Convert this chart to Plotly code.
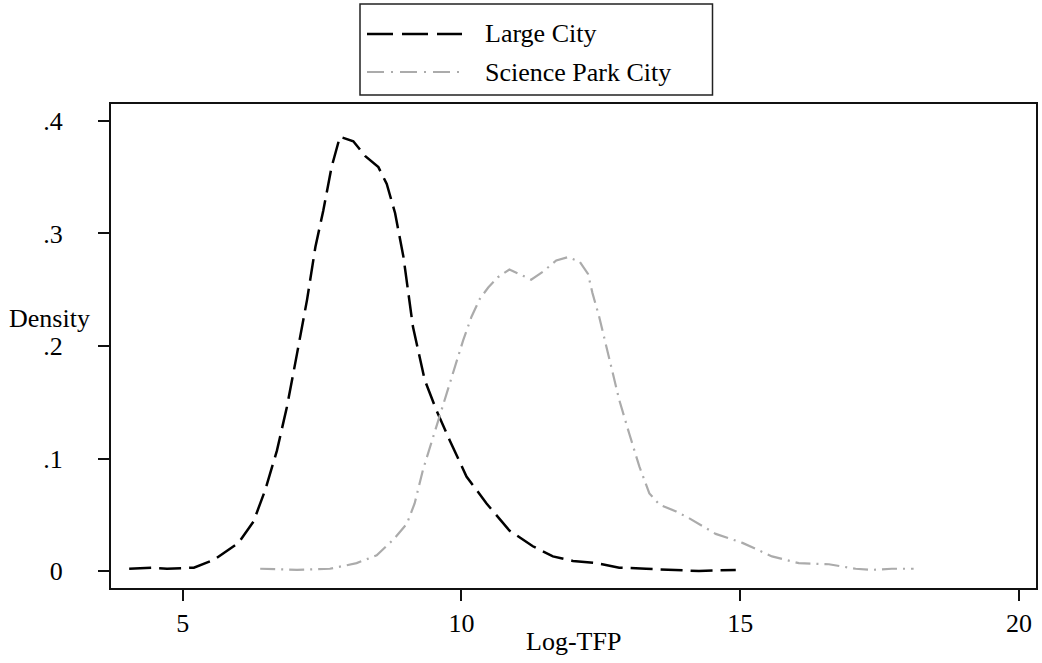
import plotly.graph_objects as go

# ---- data ----
large_x = [4.04, 4.45, 4.72, 5.2, 5.56, 6.0, 6.27, 6.48, 6.69, 6.87, 7.05, 7.23, 7.38, 7.52, 7.67,
           7.82, 8.06, 8.27, 8.51, 8.66, 8.81, 8.96, 9.13, 9.34, 9.55, 9.79, 10.09, 10.45, 10.86,
           11.28, 11.64, 12.0, 12.42, 12.83, 13.31, 13.79, 14.26, 14.92]
large_y = [0.002, 0.003, 0.002, 0.003, 0.010, 0.025, 0.044, 0.072, 0.107, 0.146, 0.193, 0.241,
           0.288, 0.320, 0.359, 0.386, 0.382, 0.369, 0.359, 0.344, 0.318, 0.279, 0.217, 0.170,
           0.143, 0.116, 0.084, 0.060, 0.036, 0.022, 0.013, 0.009, 0.007, 0.003, 0.002, 0.001,
           0.000, 0.001]

park_x = [6.39, 7.05, 7.64, 8.12, 8.48, 8.78, 9.02, 9.16, 9.31, 9.49, 9.67, 9.85, 10.03, 10.18,
          10.33, 10.48, 10.65, 10.86, 11.04, 11.25, 11.46, 11.70, 11.91, 12.12, 12.27, 12.35,
          12.47, 12.59, 12.71, 12.83, 13.01, 13.19, 13.37, 13.55, 13.85, 14.08, 14.56, 15.04,
          15.57, 16.05, 16.59, 17.07, 17.36, 17.72, 18.11]
park_y = [0.002, 0.001, 0.002, 0.007, 0.014, 0.028, 0.042, 0.060, 0.090, 0.119, 0.146, 0.176,
          0.205, 0.226, 0.242, 0.252, 0.261, 0.268, 0.264, 0.259, 0.266, 0.276, 0.279, 0.275,
          0.264, 0.247, 0.226, 0.202, 0.176, 0.152, 0.122, 0.093, 0.069, 0.059, 0.053, 0.047,
          0.033, 0.025, 0.013, 0.007, 0.006, 0.002, 0.001, 0.002, 0.002]

series_names = ["Large City", "Science Park City"]
x_tickvals = [5, 10, 15, 20]
x_ticktext = ["5", "10", "15", "20"]
y_tickvals = [0, 0.1, 0.2, 0.3, 0.4]
y_ticktext = ["0", ".1", ".2", ".3", ".4"]
x_title = "Log-TFP"
y_title = "Density"

# ---- styling ----
FONT = "Liberation Serif, Times New Roman, serif"
FS = 26
W, H = 1042, 663
# plot area in window pixels: x 111..1036, y 104..588
L, R, T, B = 111, 1042 - 1036, 104, 663 - 588
PW, PH = W - L - R, H - T - B

BLACK_DASH = "22px,8px"
GRAY = "#ababab"
GRAY_DASH = "15px,6px,2px,6px"


def px2paper(px, py):
    """window pixel -> paper coordinate"""
    return (px - L) / PW, (H - B - py) / PH


fig = go.Figure()
fig.add_trace(go.Scatter(x=large_x, y=large_y, mode="lines", name=series_names[0],
                         line=dict(color="black", width=2.5, dash=BLACK_DASH),
                         showlegend=False))
fig.add_trace(go.Scatter(x=park_x, y=park_y, mode="lines", name=series_names[1],
                         line=dict(color=GRAY, width=2.2, dash=GRAY_DASH),
                         showlegend=False))

axis_common = dict(showline=True, linewidth=2, linecolor="#111", mirror=True,
                   showgrid=False, zeroline=False, ticks="outside", ticklen=11,
                   tickwidth=1.5, tickcolor="#111",
                   tickfont=dict(family=FONT, size=FS, color="black"))

fig.update_xaxes(range=[3.714, 20.305], tickvals=x_tickvals, ticktext=x_ticktext,
                 ticklabelstandoff=0, **axis_common)
fig.update_yaxes(range=[-0.0151, 0.4151], tickvals=y_tickvals, ticktext=y_ticktext,
                 ticklabelstandoff=30, **axis_common)

shapes = []
annotations = []

# axis titles
ax, ay = px2paper(50, 318)
annotations.append(dict(text=y_title, x=ax, y=ay, xref="paper", yref="paper",
                        xanchor="center", yanchor="middle", showarrow=False,
                        font=dict(family=FONT, size=FS, color="black")))
ax, ay = px2paper(573, 641)
annotations.append(dict(text=x_title, x=ax, y=ay, xref="paper", yref="paper",
                        xanchor="center", yanchor="middle", showarrow=False,
                        font=dict(family=FONT, size=FS, color="black")))

# legend box
x0, y0 = px2paper(360, 95)
x1, y1 = px2paper(712.5, 4)
shapes.append(dict(type="rect", xref="paper", yref="paper", x0=x0, y0=y0, x1=x1, y1=y1,
                   line=dict(color="#222", width=1.5), fillcolor="white", layer="above"))
legend_rows = [(34, "black", 2.5, "26px,9px"), (72, GRAY, 2.2, "17px,7px,2px,7px")]
for (ry, col, lw, dsh), name in zip(legend_rows, series_names):
    sx0, sy = px2paper(367, ry)
    sx1, _ = px2paper(462, ry)
    shapes.append(dict(type="line", xref="paper", yref="paper", x0=sx0, x1=sx1, y0=sy, y1=sy,
                       line=dict(color=col, width=lw, dash=dsh), layer="above"))
    tx, ty = px2paper(483, ry)
    annotations.append(dict(text=name, x=tx, y=ty, xref="paper", yref="paper",
                            xanchor="left", yanchor="middle", showarrow=False,
                            font=dict(family=FONT, size=FS, color="black")))

fig.update_layout(width=W, height=H, margin=dict(l=L, r=R, t=T, b=B, autoexpand=False),
                  plot_bgcolor="white", paper_bgcolor="white",
                  shapes=shapes, annotations=annotations, showlegend=False)

fig.write_html("out.html", config={"displayModeBar": False},
               post_script="document.body.style.margin='0';document.body.style.overflow='hidden';")
